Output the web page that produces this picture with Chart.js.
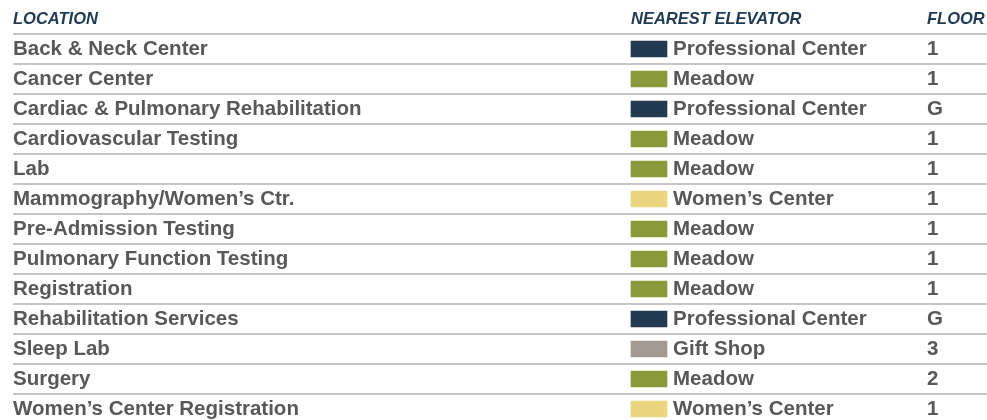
<!DOCTYPE html>
<html lang="en">

<head>
    <meta charset="UTF-8">
    <title>Nearest Elevator</title>
    <script src="https://cdn.jsdelivr.net/npm/chart.js"></script>
    <style>
        html, body { margin: 0; padding: 0; background: #fff; overflow: hidden; }
        #wrap { width: 987px; height: 426px; }
    </style>
</head>

<body>
    <div id="wrap"><canvas id="tabela"></canvas></div>
    <script>
        // dados da tabela
        const headers = ['LOCATION', 'NEAREST ELEVATOR', 'FLOOR'];
        const locations = [
            'Back & Neck Center',
            'Cancer Center',
            'Cardiac & Pulmonary Rehabilitation',
            'Cardiovascular Testing',
            'Lab',
            'Mammography/Women\u2019s Ctr.',
            'Pre-Admission Testing',
            'Pulmonary Function Testing',
            'Registration',
            'Rehabilitation Services',
            'Sleep Lab',
            'Surgery',
            'Women\u2019s Center Registration'
        ];
        const elevators = [
            'Professional Center', 'Meadow', 'Professional Center', 'Meadow', 'Meadow',
            'Women\u2019s Center', 'Meadow', 'Meadow', 'Meadow', 'Professional Center',
            'Gift Shop', 'Meadow', 'Women\u2019s Center'
        ];
        const floors = ['1', '1', 'G', '1', '1', '1', '1', '1', '1', 'G', '3', '2', '1'];

        const corElevador = {
            'Professional Center': '#233b50',
            'Meadow': '#8a9a3b',
            'Women\u2019s Center': '#e9d67f',
            'Gift Shop': '#a39992'
        };

        // layout das colunas (fração da largura da área)
        const swatchDe = 618 / 974;
        const swatchAte = 654 / 974;
        const colunaAndar = 914 / 974;

        const fonteTexto = 'bold 20.5px "Liberation Sans", Arial, sans-serif';
        const fonteCab = 'italic bold 16.5px "Liberation Sans", Arial, sans-serif';
        const corTexto = '#585858';
        const corCab = '#1f3a52';

        const textosPlugin = {
            id: 'textos',
            afterDatasetsDraw(chart) {
                const ctx = chart.ctx;
                const area = chart.chartArea;
                const xs = chart.scales.x;
                const ys = chart.scales.y;
                const meta = chart.getDatasetMeta(0);
                ctx.save();
                ctx.textBaseline = 'middle';
                ctx.textAlign = 'left';

                // cabeçalho
                ctx.font = fonteCab;
                ctx.fillStyle = corCab;
                const yCab = area.top - 15;
                ctx.fillText(headers[0], area.left, yCab);
                ctx.fillText(headers[1], xs.getPixelForValue(swatchDe), yCab);
                ctx.fillText(headers[2], xs.getPixelForValue(colunaAndar), yCab);

                // linhas
                ctx.font = fonteTexto;
                ctx.fillStyle = corTexto;
                locations.forEach((loc, i) => {
                    const y = ys.getPixelForValue(i);
                    ctx.fillText(loc, area.left, y);
                    ctx.fillText(elevators[i], meta.data[i].x + 6, y);
                    ctx.fillText(floors[i], xs.getPixelForValue(colunaAndar), y);
                });
                ctx.restore();
            }
        };

        new Chart(document.getElementById('tabela'), {
            type: 'bar',
            data: {
                labels: locations,
                datasets: [{
                    data: elevators.map(() => [swatchDe, swatchAte]),
                    backgroundColor: elevators.map(e => corElevador[e]),
                    borderWidth: 0,
                    borderSkipped: false,
                    barThickness: 16
                }]
            },
            options: {
                indexAxis: 'y',
                responsive: true,
                maintainAspectRatio: false,
                animation: false,
                layout: { padding: { left: 13, top: 34, right: 0, bottom: 2 } },
                plugins: {
                    legend: { display: false },
                    tooltip: { enabled: false }
                },
                scales: {
                    x: {
                        type: 'linear',
                        min: 0,
                        max: 1,
                        display: false
                    },
                    y: {
                        offset: true,
                        ticks: { display: false },
                        border: { display: false },
                        grid: {
                            offset: true,
                            color: '#c6c6c6',
                            lineWidth: 2,
                            drawTicks: false
                        }
                    }
                }
            },
            plugins: [textosPlugin]
        });
    </script>
</body>

</html>
